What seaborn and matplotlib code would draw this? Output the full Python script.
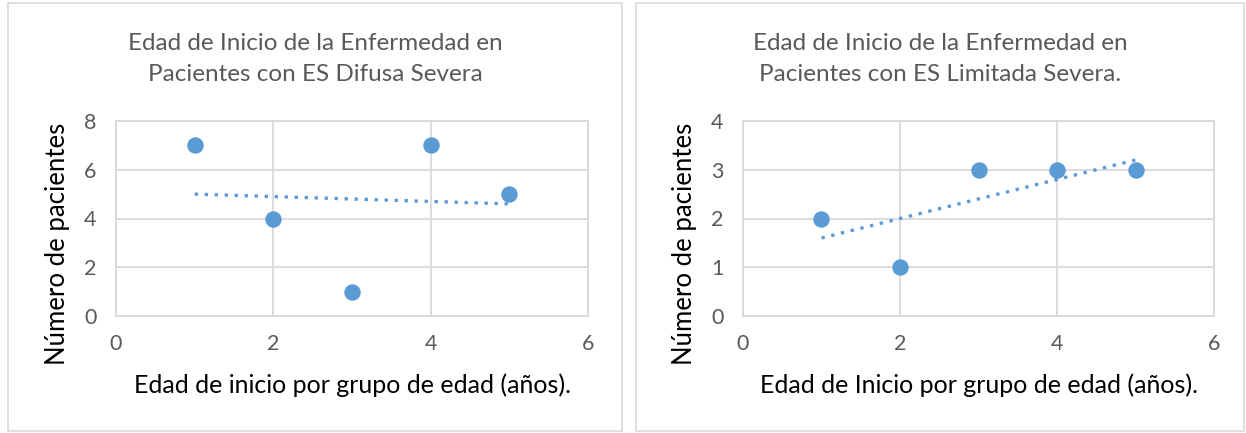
import matplotlib
matplotlib.use('Agg')
import matplotlib.pyplot as plt
import seaborn as sns
import pandas as pd
from matplotlib.patches import Rectangle

# datos
grupo_edad = [1, 2, 3, 4, 5]
pacientes_difusa = [7, 4, 1, 7, 5]
pacientes_limitada = [2, 1, 3, 3, 3]

titulos = ['Edad de Inicio de la Enfermedad en\nPacientes con ES Difusa Severa',
           'Edad de Inicio de la Enfermedad en\nPacientes con ES Limitada Severa.']
xlabels = ['Edad de inicio por grupo de edad (años).',
           'Edad de Inicio por grupo de edad (años).']
ylims = [(0, 8), (0, 4)]
yticks = [[0, 2, 4, 6, 8], [0, 1, 2, 3, 4]]

sns.set_style("white")
plt.rcParams['font.family'] = ['Lato', 'DejaVu Sans']

AZUL = '#5B9BD5'
GRIS = '#595959'
GRID = '#d9d9d9'

fig = plt.figure(figsize=(12.46, 4.33), dpi=100)

# marcos de cada panel
for x0, x1 in [(8, 622), (636, 1244)]:
    fig.patches.append(Rectangle((x0 / 1246, 2 / 433), (x1 - x0) / 1246, 428 / 433,
                                 transform=fig.transFigure, fill=False,
                                 edgecolor=GRID, linewidth=1.2))

axes_pos = [(116, 588), (743, 1214)]
centros = [315, 940]
datos = [pacientes_difusa, pacientes_limitada]

for i in range(2):
    l, r = axes_pos[i]
    ax = fig.add_axes([l / 1246, (433 - 316) / 433, (r - l) / 1246, (316 - 121) / 433])
    df = pd.DataFrame({'x': grupo_edad, 'y': datos[i]})
    sns.regplot(data=df, x='x', y='y', ax=ax, ci=None, color=AZUL,
                scatter_kws={'s': 140, 'alpha': 1, 'linewidths': 0, 'zorder': 3},
                line_kws={'linestyle': (0, (1, 2)), 'linewidth': 2.4, 'zorder': 2})
    ax.set_xlim(0, 6)
    ax.set_ylim(*ylims[i])
    ax.set_xticks([0, 2, 4, 6])
    ax.set_yticks(yticks[i])
    ax.grid(True, color=GRID, linewidth=1.3)
    ax.set_axisbelow(True)
    for s in ax.spines.values():
        s.set_color(GRID)
        s.set_linewidth(1.3)
    ax.tick_params(axis='both', length=0, labelsize=15.5, colors=GRIS)
    ax.tick_params(axis='x', pad=13)
    ax.tick_params(axis='y', pad=14)
    ax.set_xlabel(xlabels[i], fontsize=18, color='black', labelpad=14)
    ax.set_ylabel('Número de pacientes', fontsize=18.5, color='black')
    ax.yaxis.set_label_coords(-0.098, 0.37)
    fig.text(centros[i] / 1246, 1 - 59 / 433, titulos[i], ha='center', va='center',
             fontsize=17.5, color=GRIS, linespacing=1.55)

fig.savefig('out.png', dpi=100, facecolor='white')
